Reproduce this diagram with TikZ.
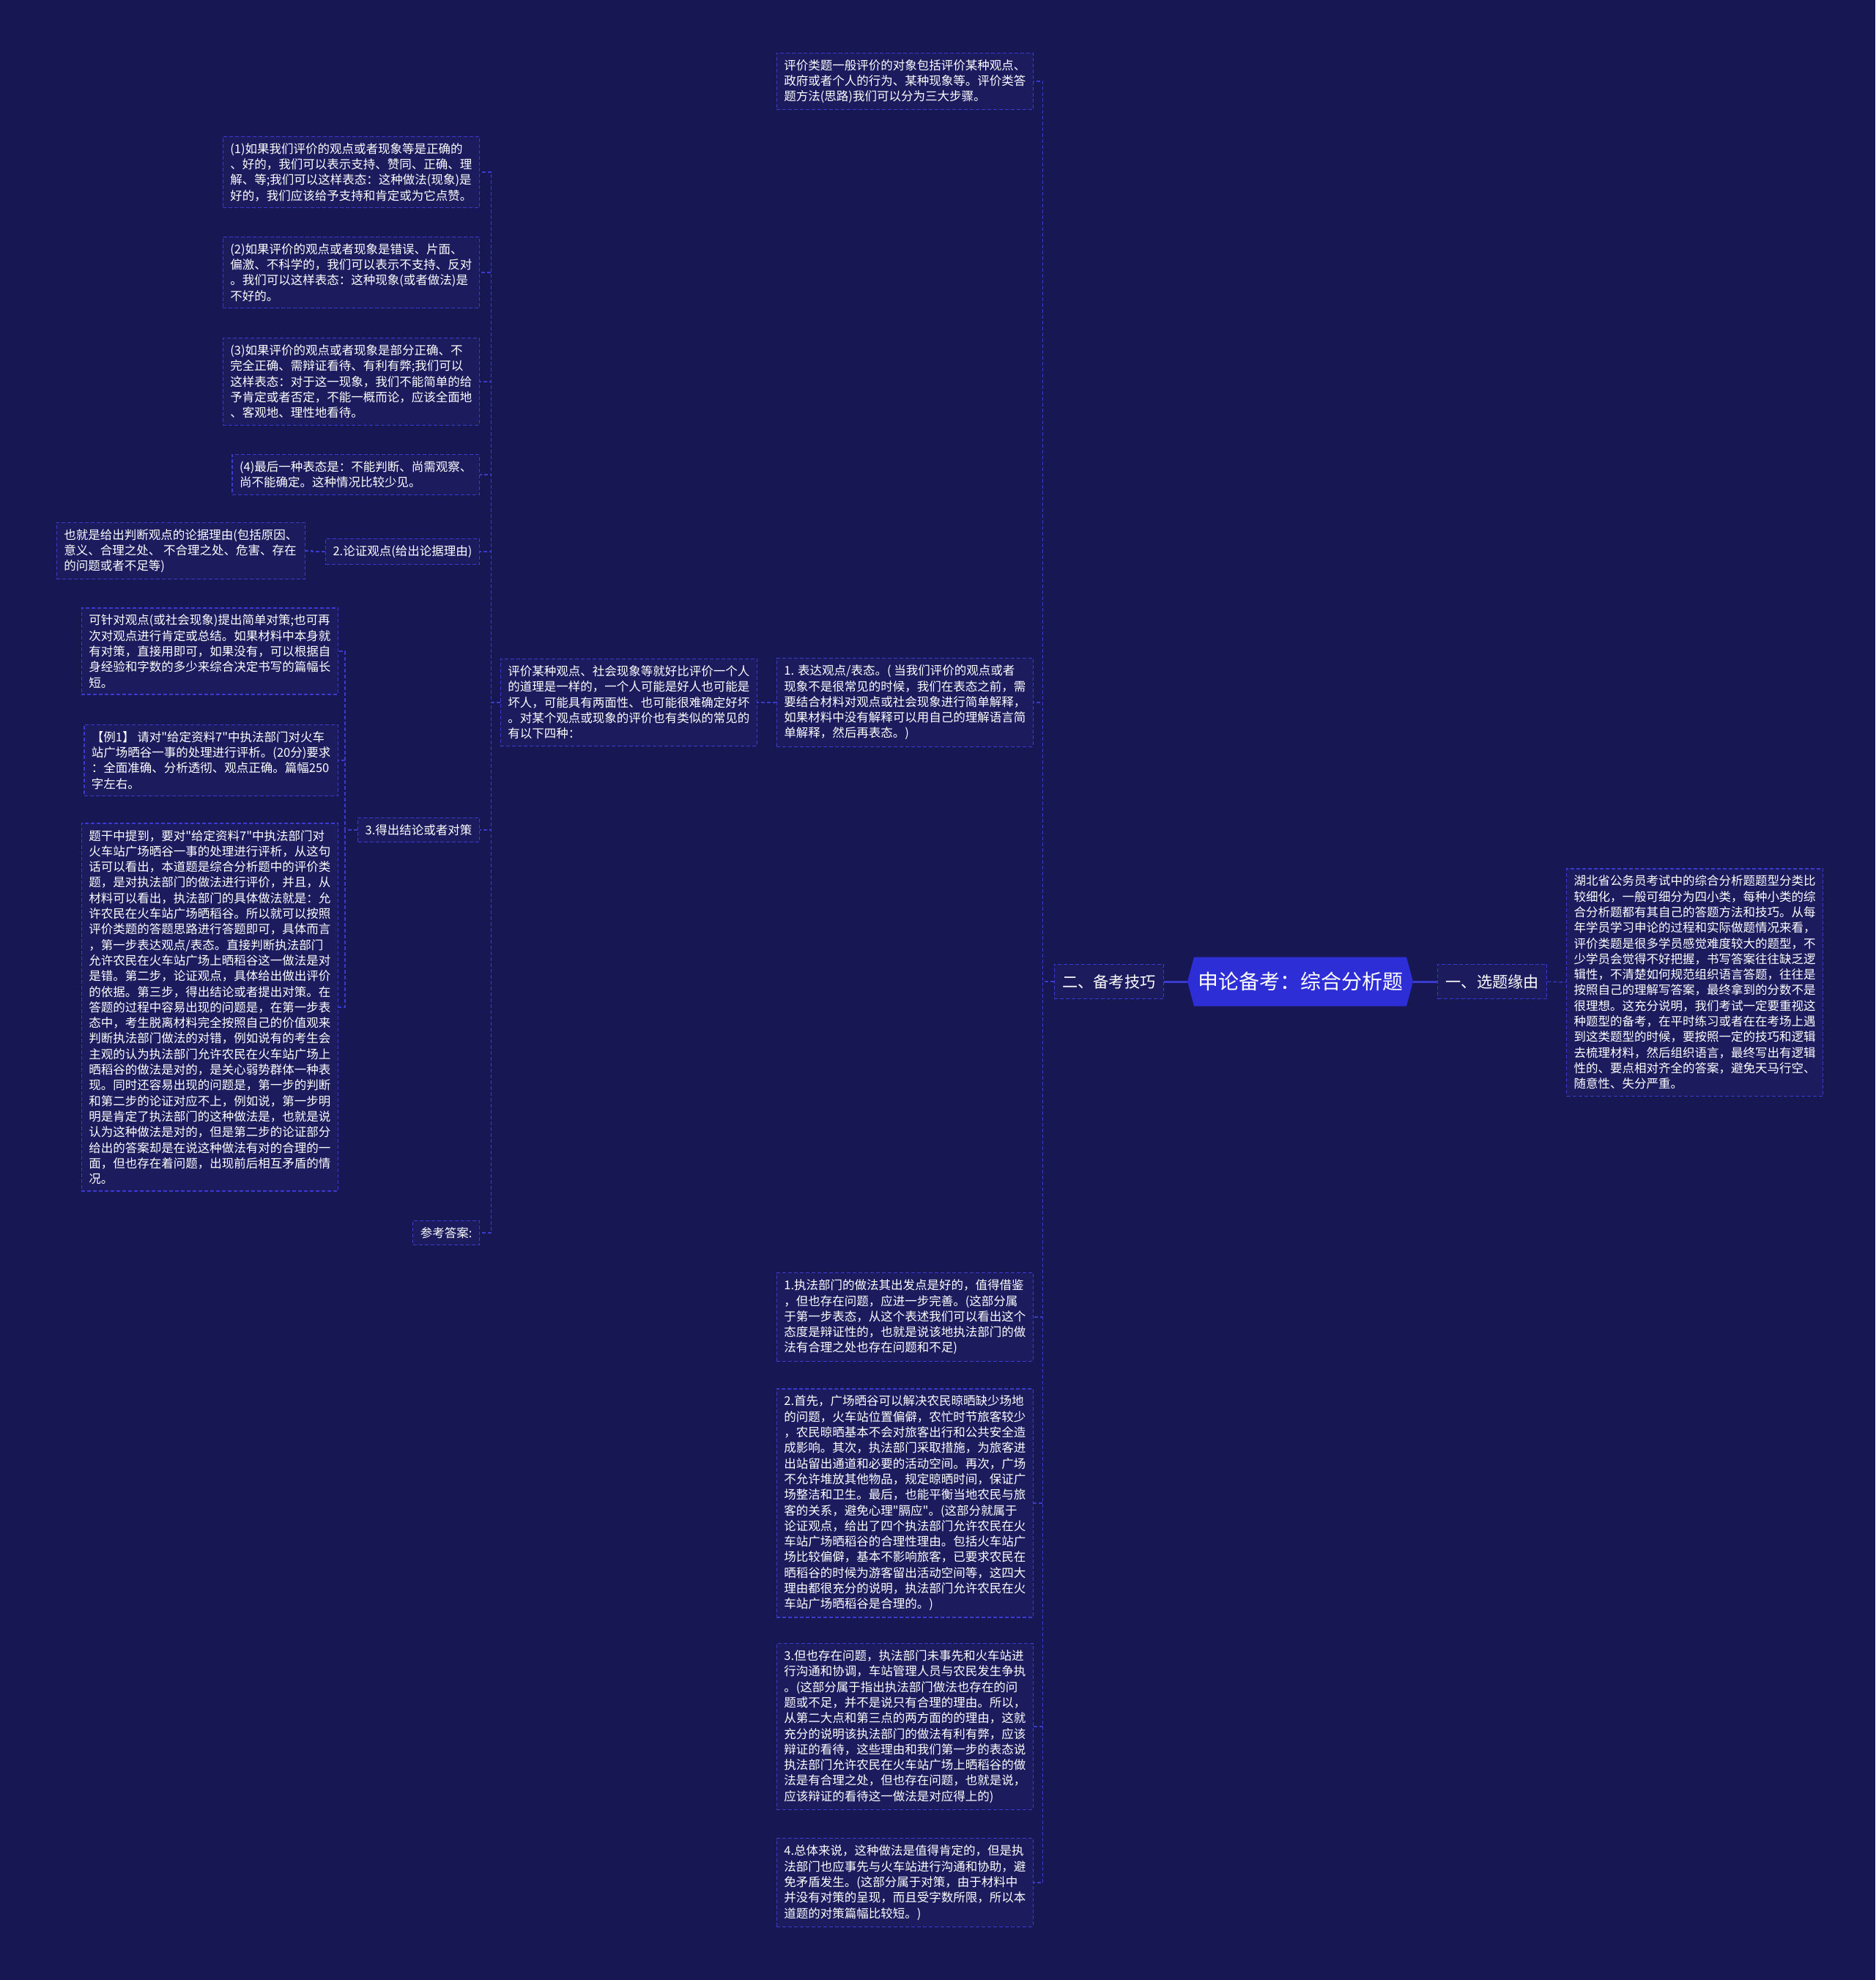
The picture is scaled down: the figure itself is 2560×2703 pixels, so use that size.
\documentclass[tikz,border=0pt]{standalone}
\usepackage{fontspec}
\setmainfont{Noto Sans CJK SC}[Ligatures=TeXOff]
\usetikzlibrary{shapes.symbols}

\definecolor{bgnavy}{RGB}{23,23,84}
\definecolor{boxnavy}{RGB}{27,27,94}
\definecolor{lineblue}{RGB}{58,58,205}
\definecolor{rootblue}{RGB}{46,46,214}

\begin{document}
\begin{tikzpicture}[
  x=0.5pt, y=-0.5pt,
  every node/.style={font=\fontsize{8.25pt}{10.65pt}\selectfont, text=white},
  leaf/.style={draw=lineblue, dash pattern=on 2.5pt off 1.5pt, line width=0.6pt,
               fill=boxnavy, align=left, inner xsep=5pt, inner ysep=4.5pt, anchor=east},
  branch/.style={leaf, font=\fontsize{10.6pt}{12pt}\selectfont, inner xsep=5.5pt, inner ysep=7pt},
  link/.style={draw=lineblue, dash pattern=on 2.5pt off 1.5pt, line width=0.6pt},
  trunk/.style={draw=lineblue, line width=1.5pt},
]
\useasboundingbox (0,0) rectangle (2560,2703);
\fill[bgnavy] (0,0) rectangle (2560,2703);

% root and first level
\node[signal, signal to=west and east, signal pointer angle=150, fill=rootblue,
      minimum height=33.5pt, inner xsep=2.5pt,
      font=\fontsize{14pt}{16pt}\selectfont] (root) at (1775,1340) {申论备考：综合分析题};
\node[branch] (prep) at (1589,1340) {二、备考技巧};
\node[branch, anchor=west] (why) at (1962,1340) {一、选题缘由};

% right side
\node[leaf, anchor=west] (intro) at (2138,1341) {湖北省公务员考试中的综合分析题题型分类比\\较细化，一般可细分为四小类，每种小类的综\\合分析题都有其自己的答题方法和技巧。从每\\年学员学习申论的过程和实际做题情况来看，\\评价类题是很多学员感觉难度较大的题型，不\\少学员会觉得不好把握，书写答案往往缺乏逻\\辑性，不清楚如何规范组织语言答题，往往是\\按照自己的理解写答案，最终拿到的分数不是\\很理想。这充分说明，我们考试一定要重视这\\种题型的备考，在平时练习或者在在考场上遇\\到这类题型的时候，要按照一定的技巧和逻辑\\去梳理材料，然后组织语言，最终写出有逻辑\\性的、要点相对齐全的答案，避免天马行空、\\随意性、失分严重。};

% children of prep
\node[leaf] (top) at (1411,111) {评价类题一般评价的对象包括评价某种观点、\\政府或者个人的行为、某种现象等。评价类答\\题方法(思路)我们可以分为三大步骤。};
\node[leaf] (expr) at (1411,959) {1. 表达观点/表态。( 当我们评价的观点或者\\现象不是很常见的时候，我们在表态之前，需\\要结合材料对观点或社会现象进行简单解释，\\如果材料中没有解释可以用自己的理解语言简\\单解释，然后再表态。)};
\node[leaf] (a1) at (1411,1798) {1.执法部门的做法其出发点是好的，值得借鉴\\，但也存在问题，应进一步完善。(这部分属\\于第一步表态，从这个表述我们可以看出这个\\态度是辩证性的，也就是说该地执法部门的做\\法有合理之处也存在问题和不足)};
\node[leaf] (a2) at (1411,2052) {2.首先，广场晒谷可以解决农民晾晒缺少场地\\的问题，火车站位置偏僻，农忙时节旅客较少\\，农民晾晒基本不会对旅客出行和公共安全造\\成影响。其次，执法部门采取措施，为旅客进\\出站留出通道和必要的活动空间。再次，广场\\不允许堆放其他物品，规定晾晒时间，保证广\\场整洁和卫生。最后，也能平衡当地农民与旅\\客的关系，避免心理"膈应"。(这部分就属于\\论证观点，给出了四个执法部门允许农民在火\\车站广场晒稻谷的合理性理由。包括火车站广\\场比较偏僻，基本不影响旅客，已要求农民在\\晒稻谷的时候为游客留出活动空间等，这四大\\理由都很充分的说明，执法部门允许农民在火\\车站广场晒稻谷是合理的。)};
\node[leaf] (a3) at (1411,2357) {3.但也存在问题，执法部门未事先和火车站进\\行沟通和协调，车站管理人员与农民发生争执\\。(这部分属于指出执法部门做法也存在的问\\题或不足，并不是说只有合理的理由。所以，\\从第二大点和第三点的两方面的的理由，这就\\充分的说明该执法部门的做法有利有弊，应该\\辩证的看待，这些理由和我们第一步的表态说\\执法部门允许农民在火车站广场上晒稻谷的做\\法是有合理之处，但也存在问题，也就是说，\\应该辩证的看待这一做法是对应得上的)};
\node[leaf] (a4) at (1411,2570) {4.总体来说，这种做法是值得肯定的，但是执\\法部门也应事先与火车站进行沟通和协助，避\\免矛盾发生。(这部分属于对策，由于材料中\\并没有对策的呈现，而且受字数所限，所以本\\道题的对策篇幅比较短。)};

\node[leaf] (compare) at (1034,959) {评价某种观点、社会现象等就好比评价一个人\\的道理是一样的，一个人可能是好人也可能是\\坏人，可能具有两面性、也可能很难确定好坏\\。对某个观点或现象的评价也有类似的常见的\\有以下四种：};

% children of compare
\node[leaf] (c1) at (655,235) {(1)如果我们评价的观点或者现象等是正确的\\、好的，我们可以表示支持、赞同、正确、理\\解、等;我们可以这样表态：这种做法(现象)是\\好的，我们应该给予支持和肯定或为它点赞。};
\node[leaf] (c2) at (655,372) {(2)如果评价的观点或者现象是错误、片面、\\偏激、不科学的，我们可以表示不支持、反对\\。我们可以这样表态：这种现象(或者做法)是\\不好的。};
\node[leaf] (c3) at (655,521) {(3)如果评价的观点或者现象是部分正确、不\\完全正确、需辩证看待、有利有弊;我们可以\\这样表态：对于这一现象，我们不能简单的给\\予肯定或者否定，不能一概而论，应该全面地\\、客观地、理性地看待。};
\node[leaf] (c4) at (655,648) {(4)最后一种表态是：不能判断、尚需观察、\\尚不能确定。这种情况比较少见。};
\node[leaf] (argue) at (655,753) {2.论证观点(给出论据理由)};
\node[leaf] (concl) at (655,1133) {3.得出结论或者对策};
\node[leaf] (ref) at (655,1683) {参考答案:};

\node[leaf] (argdetail) at (417,752) {也就是给出判断观点的论据理由(包括原因、\\意义、合理之处、 不合理之处、危害、存在\\的问题或者不足等)};

% children of concl
\node[leaf] (k1) at (462,889) {可针对观点(或社会现象)提出简单对策;也可再\\次对观点进行肯定或总结。如果材料中本身就\\有对策，直接用即可，如果没有，可以根据自\\身经验和字数的多少来综合决定书写的篇幅长\\短。};
\node[leaf] (k2) at (462,1038) {【例1】 请对"给定资料7"中执法部门对火车\\站广场晒谷一事的处理进行评析。(20分)要求\\：全面准确、分析透彻、观点正确。篇幅250\\字左右。};
\node[leaf] (k3) at (462,1375) {题干中提到，要对"给定资料7"中执法部门对\\火车站广场晒谷一事的处理进行评析，从这句\\话可以看出，本道题是综合分析题中的评价类\\题，是对执法部门的做法进行评价，并且，从\\材料可以看出，执法部门的具体做法就是：允\\许农民在火车站广场晒稻谷。所以就可以按照\\评价类题的答题思路进行答题即可，具体而言\\，第一步表达观点/表态。直接判断执法部门\\允许农民在火车站广场上晒稻谷这一做法是对\\是错。第二步，论证观点，具体给出做出评价\\的依据。第三步，得出结论或者提出对策。在\\答题的过程中容易出现的问题是，在第一步表\\态中，考生脱离材料完全按照自己的价值观来\\判断执法部门做法的对错，例如说有的考生会\\主观的认为执法部门允许农民在火车站广场上\\晒稻谷的做法是对的，是关心弱势群体一种表\\现。同时还容易出现的问题是，第一步的判断\\和第二步的论证对应不上，例如说，第一步明\\明是肯定了执法部门的这种做法是，也就是说\\认为这种做法是对的，但是第二步的论证部分\\给出的答案却是在说这种做法有对的合理的一\\面，但也存在着问题，出现前后相互矛盾的情\\况。};

% connectors
\draw[trunk] (root.west) -- (prep.east);
\draw[trunk] (root.east) -- (why.west);
\draw[link] (why.east) -- (intro.west);
\foreach \n in {top,expr,a1,a2,a3,a4}
  \draw[link] (prep.west) -- ++(-15,0) |- (\n.east);
\draw[link] (expr.west) -- ++(-12,0) |- (compare.east);
\foreach \n in {c1,c2,c3,c4,argue,concl,ref}
  \draw[link] (compare.west) -- ++(-12,0) |- (\n.east);
\draw[link] (argue.west) -- ++(-18,0) |- (argdetail.east);
\foreach \n in {k1,k2,k3}
  \draw[link] (concl.west) -- ++(-17,0) |- (\n.east);
\end{tikzpicture}
\end{document}
